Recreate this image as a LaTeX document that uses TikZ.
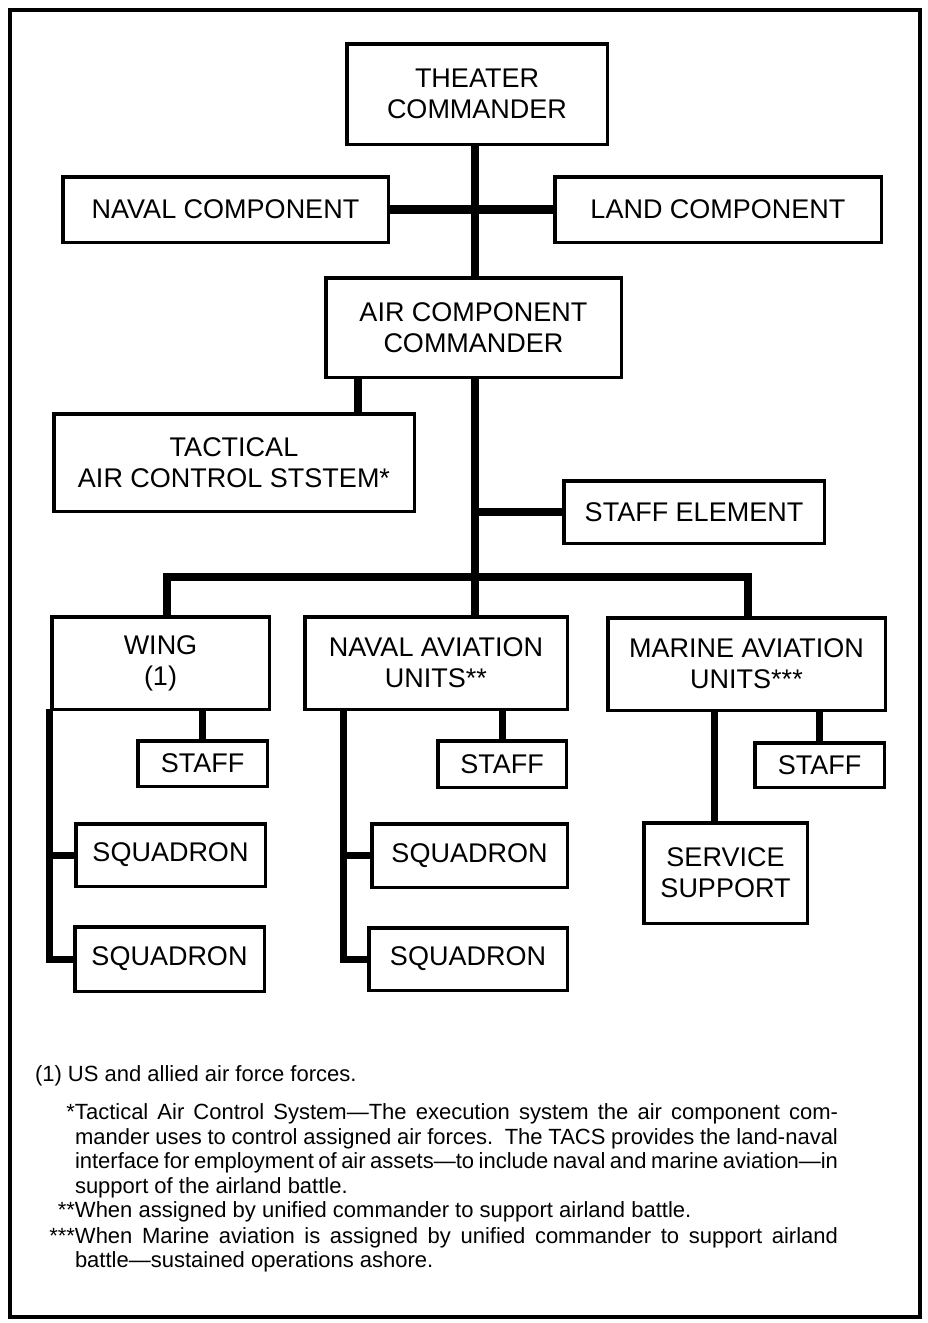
\documentclass[tikz,border=0pt]{standalone}
\usepackage{fontspec}
\setmainfont{Liberation Sans}
\newcommand\OBox[6]{\node[bx,minimum width={#4-#2-3.5},minimum height={#5-#3-3.5}] (#1) at ({(#2+#4)/2},{(#3+#5)/2}) {#6};}
\begin{document}
\begin{tikzpicture}[x=1pt,y=-1pt,
  bx/.style={draw, line width=3.5pt, inner sep=0pt, outer sep=0pt, align=center, font=\fontsize{27}{31}\selectfont},
  conn/.style={line width=8.5pt},
  subconn/.style={line width=7pt},
  fn/.style={inner sep=0pt, outer sep=0pt, font=\fontsize{22}{24.5}\selectfont}]
\useasboundingbox (0,0) rectangle (927,1323);
\draw[line width=4pt] (10,10) rectangle (920,1317);

\OBox{theater}{345}{42}{609}{146}{THEATER\\COMMANDER}
\OBox{navcomp}{61}{175}{390}{244}{NAVAL COMPONENT}
\OBox{landcomp}{553}{175}{883}{244}{LAND COMPONENT}
\OBox{acc}{324}{276}{623}{379}{AIR COMPONENT\\COMMANDER}
\OBox{tacs}{52}{412}{416}{513}{TACTICAL\\AIR CONTROL STSTEM*}
\OBox{staffel}{562}{479}{826}{545}{STAFF ELEMENT}
\OBox{wing}{50}{615}{271}{711}{WING\\(1)}
\OBox{navav}{303}{615}{569}{711}{NAVAL AVIATION\\UNITS**}
\OBox{marav}{606}{616}{887}{712}{MARINE AVIATION\\UNITS***}
\OBox{wstaff}{136}{739}{269}{788}{STAFF}
\OBox{wsq1}{74}{822}{267}{888}{SQUADRON}
\OBox{wsq2}{73}{925}{266}{993}{SQUADRON}
\OBox{nstaff}{436}{739}{568}{789}{STAFF}
\OBox{nsq1}{370}{822}{569}{889}{SQUADRON}
\OBox{nsq2}{367}{926}{569}{992}{SQUADRON}
\OBox{mstaff}{753}{741}{886}{789}{STAFF}
\OBox{svc}{642}{821}{809}{925}{SERVICE\\SUPPORT}

\coordinate (tx) at (475,0);
\coordinate (tacx) at (358,0);
\coordinate (bl) at (167,577);
\coordinate (br) at (748,577);
\coordinate (wsp) at (49,0);
\coordinate (nsp) at (343,0);
\coordinate (svx) at (714,0);

\draw[conn] (theater.south -| tx) -- (acc.north -| tx);
\draw[conn] (navcomp.east) -- (landcomp.west);
\draw[conn] (acc.south -| tacx) -- (tacs.north -| tacx);
\draw[conn] (acc.south -| tx) -- (navav.north -| tx);
\draw[conn] (staffel.west -| tx) -- (staffel.west);
\draw[conn] (wing.north -| bl) -- (bl) -- (br) -- (marav.north -| br);
\draw[subconn] (wing.south -| wstaff.north) -- (wstaff.north);
\draw[subconn] (wing.south -| wsp) -- (wsq2.west -| wsp) -- (wsq2.west);
\draw[subconn] (wsq1.west -| wsp) -- (wsq1.west);
\draw[subconn] (navav.south -| nstaff.north) -- (nstaff.north);
\draw[subconn] (navav.south -| nsp) -- (nsq2.west -| nsp) -- (nsq2.west);
\draw[subconn] (nsq1.west -| nsp) -- (nsq1.west);
\draw[subconn] (marav.south -| mstaff.north) -- (mstaff.north);
\draw[subconn] (marav.south -| svx) -- (svc.north -| svx);

\node[fn, anchor=base west] (f1) at (35,1081) {(1) US and allied air force forces.};
\node[fn, anchor=base west] (f2) at (75,1119) {\hbox to 763pt{\llap{*}Tactical Air Control System—The execution system the air component com-}};
\node[fn, anchor=base west] (f3) at (75,1144) {\hbox to 763pt{mander uses to control assigned air forces.\ \ The TACS provides the land-naval}};
\node[fn, anchor=base west] (f4) at (75,1168) {\hbox to 763pt{interface for employment of air assets—to include naval and marine aviation—in}};
\node[fn, anchor=base west] (f5) at (75,1193) {support of the airland battle.};
\node[fn, anchor=base west] (f6) at (75,1217) {\llap{**}When assigned by unified commander to support airland battle.};
\node[fn, anchor=base west] (f7) at (75,1243) {\hbox to 763pt{\llap{***}When Marine aviation is assigned by unified commander to support airland}};
\node[fn, anchor=base west] (f8) at (75,1267) {battle—sustained operations ashore.};
\end{tikzpicture}
\end{document}
